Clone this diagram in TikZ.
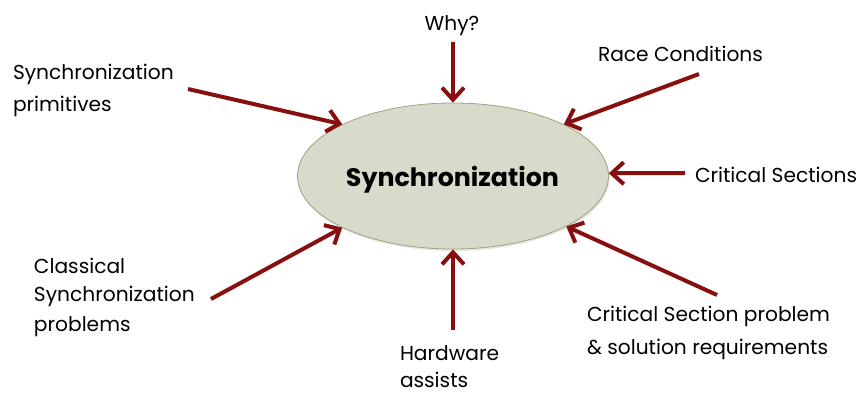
\documentclass[tikz,border=0pt]{standalone}
\usepackage{fontspec}
\setmainfont{Poppins}
\usetikzlibrary{arrows.meta,shapes.geometric,shadows}

\definecolor{arrowred}{RGB}{135,15,15}
\definecolor{hubfill}{RGB}{216,218,204}
\definecolor{hubline}{RGB}{160,163,122}

\tikzset{
  topic/.style={inner sep=0pt, outer sep=0pt, align=left,
    font=\fontsize{20.2}{31}\selectfont},
  lead/.style={font=\fontsize{20.2}{#1}\selectfont},
  feed/.style={draw=arrowred, line width=4pt,
    -{Straight Barb[length=12pt,width=22pt]}},
  hub/.style={ellipse, fill=hubfill, draw=hubline, line width=0.8pt,
    minimum width=311pt, minimum height=146pt, inner sep=0pt,
    drop shadow={opacity=0.2, shadow xshift=1pt, shadow yshift=-2pt}},
}

\begin{document}
\begin{tikzpicture}[x=1pt,y=1pt]
  \useasboundingbox (0,0) rectangle (863,394);

  % central topic
  \node[hub] (sync) at (453,218) {};
  \node[inner sep=0pt, anchor=base, font=\fontsize{25.3}{30}\selectfont\bfseries]
    (synctext) at (452.5,207) {Synchronization};

  % surrounding topics (multi-line nodes sit on their last baseline)
  \node[topic, anchor=base] (why) at (452,363) {Why?};
  \node[topic, anchor=base west] (race) at (598,332) {Race Conditions};
  \node[topic, anchor=base west] (crit) at (695,211) {Critical Sections};
  \node[topic, lead=32, anchor=base west] (prim) at (13,282) {Synchronization\\primitives};
  \node[topic, lead=29, anchor=base west] (class) at (34,63) {Classical\\Synchronization\\problems};
  \node[topic, lead=33, anchor=base west] (csp) at (587,39) {Critical Section problem\\\& solution requirements};
  \node[topic, lead=28, anchor=base west] (hw) at (400,6) {Hardware\\assists};

  % arrow tails
  \coordinate (whyT) at (453,352);
  \coordinate (raceT) at (699,320);
  \coordinate (critT) at (685,221);
  \coordinate (primT) at (188,305);
  \coordinate (classT) at (211,95);
  \coordinate (cspT) at (717,99);
  \coordinate (hwT) at (453,64);

  % arrows into the central topic
  \draw[feed] (whyT) -- (sync.90);
  \draw[feed] (raceT) -- (sync.25.3);
  \draw[feed] (critT) -- (sync.1.1);
  \draw[feed] (primT) -- (sync.155.6);
  \draw[feed] (classT) -- (sync.205.1);
  \draw[feed] (cspT) -- (sync.-24.9);
  \draw[feed] (hwT) -- (sync.-90);
\end{tikzpicture}
\end{document}
